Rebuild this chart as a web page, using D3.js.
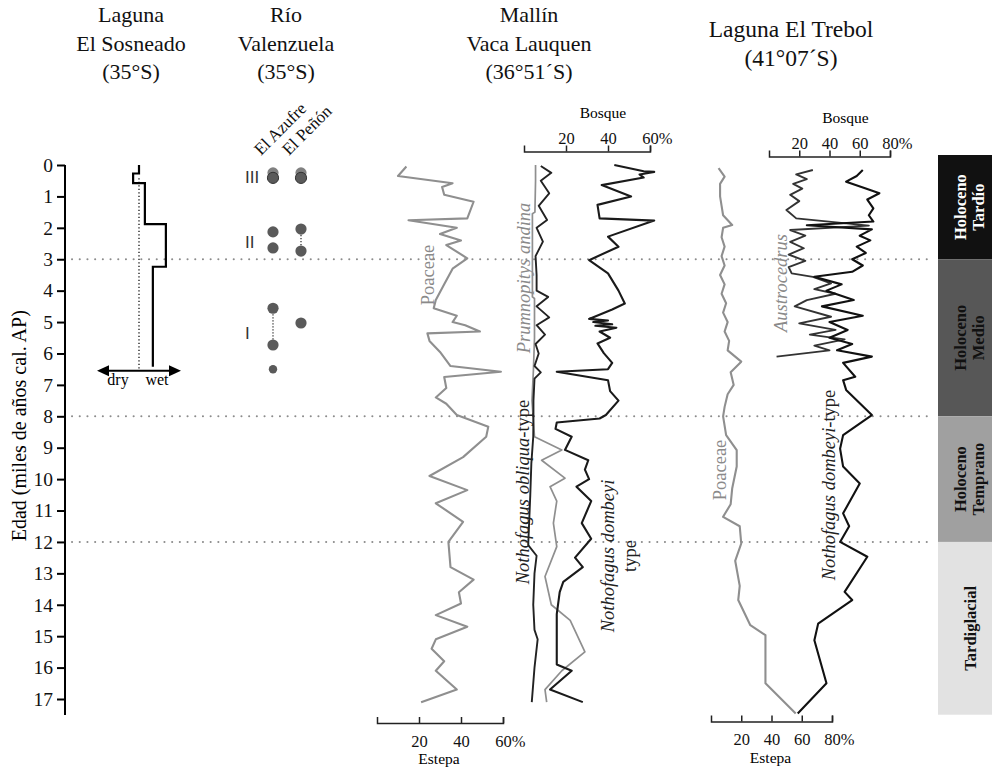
<!DOCTYPE html>
<html>
<head>
<meta charset="utf-8">
<script src="https://cdn.jsdelivr.net/npm/d3@7"></script>
<style>
  body { margin: 0; background: #fff; }
  svg { display: block; font-family: "Liberation Serif", "Times New Roman", serif; }
</style>
</head>
<body>
<div id="chart"></div>
<script>
"use strict";

// ---- data (ages in miles de años cal. AP, values in %) ----
const ageTicks = d3.range(0, 18);
const boundaryAges = [3, 8, 12];

const periodNames = [["Holoceno", "Tardío"], ["Holoceno", "Medio"], ["Holoceno", "Temprano"], ["Tardiglacial"]];
const periodStart = [0, 3, 8, 12];
const periodEnd = [3, 8, 12, 17.5];

// Laguna El Sosneado moisture index (-1 dry .. 1 wet), step changes at these ages
const sosneadoBreaks = [0, 0.27, 0.58, 1.88, 3.24, 6.42];
const sosneadoIndex = [0, -0.14, 0.14, 0.64, 0.33];

// Río Valenzuela dated levels
const azufreAges = [0.25, 0.41, 2.13, 2.64, 4.56, 5.73, 6.5];
const penonAges = [0.25, 0.41, 2.04, 2.74, 5.03];
const azufreLinks = [[4.56, 5.73]];
const penonLinks = [[2.04, 2.74]];
const phaseLabels = ["III", "II", "I"];
const phaseAges = [0.38, 2.45, 5.35];

// Mallín Vaca Lauquen  [age, %]
const vlPoaceae = [[0.05,14],[0.35,10],[0.58,36],[0.7,31],[0.95,32],[1.17,46],[1.7,43],[1.76,15],[2.0,38],[2.2,30],[2.4,40],[2.55,33],[2.97,43],[3.3,36],[3.8,32],[4.3,28],[4.56,27],[4.8,38],[5.0,36],[5.1,42],[5.3,49],[5.36,24],[5.6,25],[5.95,30],[6.4,35],[6.58,59],[6.75,32],[7.1,33],[7.4,28],[7.6,33],[7.96,38],[8.33,53],[8.65,52],[9.3,41],[9.9,25],[10.35,43],[10.77,28],[11.36,41],[12.0,34],[12.8,35],[13.2,46],[13.6,39],[13.96,40],[14.33,28],[14.7,43],[15.1,28],[15.4,26],[15.8,32],[16.1,28],[16.7,38],[17.1,21]];
const vlPrumnopitys = [[0,5.5],[0.5,5.5],[1.5,5.2],[1.55,4],[3,4],[4.2,4],[4.25,5],[5.5,5],[6.5,4.5],[7.5,3.8],[8.65,5],[9.07,18],[9.4,8.4],[9.97,19.5],[10.24,12.4],[10.7,15.6],[11.4,14],[12.15,15.6],[13.1,10],[14.0,13],[14.5,22],[15.5,29],[16.1,18],[16.7,10],[17.1,10.8]];
const vlObliqua = [[0.03,8],[0.25,13],[0.5,8],[0.9,12],[1.3,7],[1.75,11],[2.0,6],[2.44,9],[2.9,5.5],[3.5,6],[4.0,6],[4.2,11.5],[4.5,6],[4.85,12],[5.1,6],[5.4,10],[5.7,5.5],[6.0,7],[6.4,5],[6.6,8],[6.8,5],[7.5,4.5],[8.0,4.5],[8.65,4.4],[9.5,3.5],[10.5,3],[12.1,2],[12.44,6],[13.0,5],[14.0,4.4],[14.8,5],[15.1,6.5],[16.0,5],[17.1,3.7]];
const vlDombeyi = [[0.0,43],[0.2,57],[0.22,62],[0.3,55],[0.4,57],[0.64,37],[1.0,51],[1.27,35],[1.7,36],[1.77,62],[2.28,40],[2.6,45],[3.03,31],[3.45,40],[4.0,45],[4.41,48],[4.6,42],[4.9,31],[4.95,40],[5.0,33],[5.07,42],[5.12,34],[5.18,44],[5.3,36],[5.5,41],[5.68,35],[5.99,38],[6.3,42],[6.5,40],[6.58,15.6],[6.85,40],[7.2,41],[7.5,45],[7.96,39],[8.07,36],[8.2,15.6],[8.4,15],[8.65,22.7],[9.07,19.5],[9.4,30.6],[9.7,29],[10.0,31],[10.24,25],[10.7,32],[11.4,27.5],[11.9,32],[12.5,24.3],[12.8,28],[13.27,18.7],[13.6,17],[14.3,15.6],[15.9,15.6],[16.1,22.7],[16.7,12.4],[17.1,28]];

// Laguna El Trebol  [age, %]
const etPoaceae = [[0.1,5],[0.37,9],[0.6,6],[1.0,6],[1.3,7],[1.6,8],[1.91,14],[2.0,8],[2.3,7],[2.6,9],[2.9,7],[3.2,9],[3.5,6],[3.8,9],[4.1,7],[4.4,10],[4.7,8],[5.0,11],[5.3,9],[5.6,12],[5.9,11],[6.26,20],[6.6,13],[7.0,15],[7.3,11],[7.7,9],[8.0,8],[8.6,10],[9.08,17],[9.6,17],[10.3,14],[10.8,13],[11.2,8],[11.5,19],[12.05,20],[12.6,16],[13.4,19],[13.85,18],[14.65,26],[14.97,36],[16.5,36],[17.46,56]];
const etAustrocedrus = [[0.16,29],[0.3,18],[0.45,25],[0.6,16],[0.75,22],[0.95,14],[1.15,20],[1.43,11.5],[1.7,18],[1.93,66],[2.07,14],[2.25,24],[2.45,14],[2.65,23],[2.85,13],[3.05,24],[3.25,13],[3.45,15],[3.56,29],[3.77,41],[3.95,30],[4.1,44],[4.3,25],[4.5,17],[4.83,41],[5.04,20],[5.25,44],[5.4,27],[5.55,50],[5.75,30],[5.9,40],[6.1,5]];
const etDombeyi = [[0.16,62],[0.35,58],[0.53,51],[0.75,64],[0.9,73],[1.1,65],[1.38,69],[1.6,66],[1.8,69],[1.92,25],[2.05,68],[2.25,60],[2.4,67],[2.6,58],[2.8,64],[3.0,55],[3.2,62],[3.4,55],[3.56,30],[3.8,48],[4.0,38],[4.3,56],[4.5,35],[4.8,62],[5.0,40],[5.25,52],[5.5,40],[5.7,55],[5.9,45],[6.1,68],[6.3,49],[6.74,57],[6.85,49],[7.16,51],[7.96,68],[8.6,49],[9.03,47],[9.6,49],[10.14,60],[11.09,49],[11.5,53],[12.0,47],[12.47,65],[13.59,50],[13.85,55],[14.6,32.5],[15.13,30],[16.5,38],[17.46,19]];

const vlTicks = [20, 40, 60];
const etTicks = [20, 40, 60, 80];

// ---- page ----
const width = 992, height = 770;
const serif = '"Liberation Serif", "Times New Roman", serif';

const svg = d3.select("#chart").append("svg")
    .attr("width", width)
    .attr("height", height);

const y = d3.scaleLinear().domain([0, 17]).range([165, 699]);

//period bands on the right
const bands = svg.append("g");
periodNames.forEach((name, i) => {
    const top = i === 0 ? y(periodStart[i]) - 10 : y(periodStart[i]);
    const bottom = y(periodEnd[i]);
    const fills = ["#111", "#575757", "#a0a0a0", "#e2e2e2"];
    bands.append("rect")
        .attr("x", 938).attr("y", top)
        .attr("width", 54).attr("height", bottom - top)
        .attr("fill", fills[i]);
    const cy = (top + bottom) / 2;
    name.forEach((line, j) => {
        const cx = 966 + (name.length === 1 ? 4 : (j === 0 ? -6 : 12));
        bands.append("text")
            .attr("transform", `translate(${cx},${cy}) rotate(-90)`)
            .attr("text-anchor", "middle")
            .attr("dy", "0.35em")
            .attr("font-size", 16.5)
            .attr("font-weight", "bold")
            .attr("fill", i === 0 ? "#fff" : "#111")
            .text(line);
    });
});

//dotted period boundaries
svg.selectAll("line.boundary")
    .data(boundaryAges)
    .enter().append("line")
    .attr("x1", 72).attr("x2", 930)
    .attr("y1", d => y(d)).attr("y2", d => y(d))
    .attr("stroke", "#8c8c8c")
    .attr("stroke-width", 2)
    .attr("stroke-linecap", "round")
    .attr("stroke-dasharray", "0.1 7.6");

//left age axis
const yAxis = svg.append("g")
    .attr("transform", "translate(65,0)")
    .call(d3.axisLeft(y).tickValues(ageTicks).tickSize(8).tickSizeOuter(0).tickPadding(4));
yAxis.select(".domain").remove();
yAxis.append("line")
    .attr("y1", y(0)).attr("y2", 715)
    .attr("stroke", "#000").attr("stroke-width", 2);
yAxis.selectAll(".tick line").attr("stroke-width", 2);
yAxis.selectAll("text")
    .attr("font-family", serif)
    .attr("font-size", 19.5)
    .attr("fill", "#111");

svg.append("text")
    .attr("transform", `translate(19,${y(8.3)}) rotate(-90)`)
    .attr("text-anchor", "middle")
    .attr("dy", "0.35em")
    .attr("font-size", 20)
    .text("Edad (miles de años cal. AP)");

//site titles
const titles = [
    { x: 131, lines: ["Laguna", "El Sosneado", "(35°S)"], y0: 22, size: 22 },
    { x: 286, lines: ["Río", "Valenzuela", "(35°S)"], y0: 22, size: 22 },
    { x: 529, lines: ["Mallín", "Vaca Lauquen", "(36°51´S)"], y0: 22, size: 22 },
    { x: 791, lines: ["Laguna El Trebol", "(41°07´S)"], y0: 37, size: 23.5 }
];
titles.forEach(t => {
    t.lines.forEach((line, i) => {
        svg.append("text")
            .attr("x", t.x).attr("y", t.y0 + i * 28.5)
            .attr("text-anchor", "middle")
            .attr("font-size", t.size)
            .attr("fill", "#111")
            .text(line);
    });
});

// ---- Laguna El Sosneado ----
const sosX = d3.scaleLinear().domain([-1, 1]).range([97, 181]);
const stepPoints = [];
sosneadoIndex.forEach((v, i) => {
    stepPoints.push([sosX(v), y(sosneadoBreaks[i])]);
    stepPoints.push([sosX(v), y(sosneadoBreaks[i + 1])]);
});
svg.append("line")
    .attr("x1", sosX(0)).attr("x2", sosX(0))
    .attr("y1", y(0.42)).attr("y2", y(6.55))
    .attr("stroke", "#222").attr("stroke-width", 1.4)
    .attr("stroke-dasharray", "1.3 2.2");
svg.append("path")
    .attr("d", d3.line()(stepPoints))
    .attr("fill", "none").attr("stroke", "#000").attr("stroke-width", 2.2);

const arrowY = y(6.55);
svg.append("line")
    .attr("x1", sosX(-1) + 6).attr("x2", sosX(1) - 6)
    .attr("y1", arrowY).attr("y2", arrowY)
    .attr("stroke", "#000").attr("stroke-width", 2.2);
[-1, 1].forEach(s => {
    const tip = sosX(s);
    svg.append("path")
        .attr("d", `M${tip},${arrowY}L${tip - s * 12},${arrowY - 5.5}L${tip - s * 12},${arrowY + 5.5}Z`)
        .attr("fill", "#000");
});
svg.append("text").attr("x", 118).attr("y", arrowY + 14)
    .attr("text-anchor", "middle").attr("font-size", 16).text("dry");
svg.append("text").attr("x", 157).attr("y", arrowY + 14)
    .attr("text-anchor", "middle").attr("font-size", 16).text("wet");

// ---- Río Valenzuela ----
const rv = svg.append("g");
const columns = [
    { x: 273, ages: azufreAges, links: azufreLinks, name: "El Azufre" },
    { x: 301, ages: penonAges, links: penonLinks, name: "El Peñón" }
];
columns.forEach(c => {
    rv.selectAll(null).data(c.links).enter().append("line")
        .attr("x1", c.x).attr("x2", c.x)
        .attr("y1", d => y(d[0])).attr("y2", d => y(d[1]))
        .attr("stroke", "#444").attr("stroke-width", 1.4)
        .attr("stroke-dasharray", "1.2 1.8");
    rv.selectAll(null).data(c.ages).enter().append("circle")
        .attr("cx", c.x)
        .attr("cy", d => y(d))
        .attr("r", d => d > 6 ? 4.2 : 5.6)
        .attr("fill", (d, i) => i === 0 ? "#808080" : "#5a5a5a")
        .attr("stroke", (d, i) => i === 1 ? "#333" : "none")
        .attr("stroke-width", 1);
    rv.append("text")
        .attr("transform", `translate(${c.x - 12},${156}) rotate(-45)`)
        .attr("font-size", 17)
        .attr("fill", "#111")
        .text(c.name);
});
phaseLabels.forEach((p, i) => {
    rv.append("text")
        .attr("x", 245).attr("y", y(phaseAges[i]))
        .attr("dy", "0.35em")
        .attr("font-family", "Liberation Sans, Arial, sans-serif")
        .attr("font-size", 17)
        .attr("fill", "#333")
        .text(p);
});

// ---- shared helpers for pollen panels ----
function curve(scale, data, color, w) {
    svg.append("path")
        .datum(data)
        .attr("d", d3.line().x(d => scale(d[1])).y(d => y(d[0])))
        .attr("fill", "none")
        .attr("stroke", color)
        .attr("stroke-width", w)
        .attr("stroke-linejoin", "round");
}

function styleAxis(g, last) {
    g.selectAll("path, line").attr("stroke", "#222").attr("stroke-width", 1.5);
    g.selectAll("text")
        .attr("font-family", serif)
        .attr("font-size", 16.5)
        .attr("fill", "#111");
    g.selectAll(".tick text")
        .filter(d => d === last)
        .attr("text-anchor", "start")
        .attr("dx", "-0.5em");
}

function topAxis(scale, ticks, yPos, label) {
    const g = svg.append("g")
        .attr("transform", `translate(0,${yPos})`)
        .call(d3.axisTop(scale).tickValues(ticks).tickSize(6).tickSizeOuter(6).tickPadding(2)
            .tickFormat(d => d === ticks[ticks.length - 1] ? d + "%" : d));
    styleAxis(g, ticks[ticks.length - 1]);
    svg.append("text")
        .attr("x", (scale.range()[0] + scale.range()[1]) / 2 + 16)
        .attr("y", yPos - 34)
        .attr("text-anchor", "middle")
        .attr("font-size", 15.5)
        .text(label);
}

function bottomAxis(scale, ticks, yPos, label) {
    const g = svg.append("g")
        .attr("transform", `translate(0,${yPos})`)
        .call(d3.axisBottom(scale).tickValues(ticks).tickSize(-6).tickSizeOuter(-6).tickPadding(12)
            .tickFormat(d => d === ticks[ticks.length - 1] ? d + "%" : d));
    styleAxis(g, ticks[ticks.length - 1]);
    svg.append("text")
        .attr("x", (scale.range()[0] + scale.range()[1]) / 2 - 1)
        .attr("y", yPos + 41)
        .attr("text-anchor", "middle")
        .attr("font-size", 15.5)
        .text(label);
}

function vlabel(x, cy, parts, color, size) {
    const t = svg.append("text")
        .attr("transform", `translate(${x},${cy}) rotate(-90)`)
        .attr("text-anchor", "middle")
        .attr("dy", "0.35em")
        .attr("font-size", size)
        .attr("fill", color);
    parts.forEach(p => {
        t.append("tspan").attr("font-style", p[1] ? "italic" : "normal").text(p[0]);
    });
}

// ---- Mallín Vaca Lauquen ----
const vlEstepa = d3.scaleLinear().domain([0, 60]).range([377, 503]);
const vlBosque = d3.scaleLinear().domain([0, 60]).range([524, 650]);
topAxis(vlBosque, vlTicks, 151.5, "Bosque");
bottomAxis(vlEstepa, vlTicks, 723, "Estepa");
curve(vlEstepa, vlPoaceae, "#8f8f8f", 2.1);
curve(vlBosque, vlPrumnopitys, "#8f8f8f", 1.7);
curve(vlBosque, vlObliqua, "#222", 1.9);
curve(vlBosque, vlDombeyi, "#1a1a1a", 2.1);
vlabel(428, 275, [["Poaceae", false]], "#8a8a8a", 18.5);
vlabel(524, 278, [["Prumnopitys andina", true]], "#8a8a8a", 18.5);
vlabel(523, 492, [["Nothofagus obliqua", true], ["-type", false]], "#222", 18.5);
vlabel(608, 556, [["Nothofagus dombeyi", true]], "#222", 18.5);
vlabel(630, 556, [["type", false]], "#222", 18.5);

// ---- Laguna El Trebol ----
const etEstepa = d3.scaleLinear().domain([0, 80]).range([711, 832]);
const etBosque = d3.scaleLinear().domain([0, 80]).range([769, 890]);
topAxis(etBosque, etTicks, 156.5, "Bosque");
bottomAxis(etEstepa, etTicks, 721.5, "Estepa");
curve(etEstepa, etPoaceae, "#8f8f8f", 2.1);
curve(etBosque, etAustrocedrus, "#333", 1.9);
curve(etBosque, etDombeyi, "#111", 2.1);
vlabel(781, 283, [["Austrocedrus", true]], "#8a8a8a", 18.5);
vlabel(829, 485, [["Nothofagus dombeyi", true], ["-type", false]], "#222", 18.5);
vlabel(720, 470, [["Poaceae", false]], "#8a8a8a", 18.5);
</script>
</body>
</html>
